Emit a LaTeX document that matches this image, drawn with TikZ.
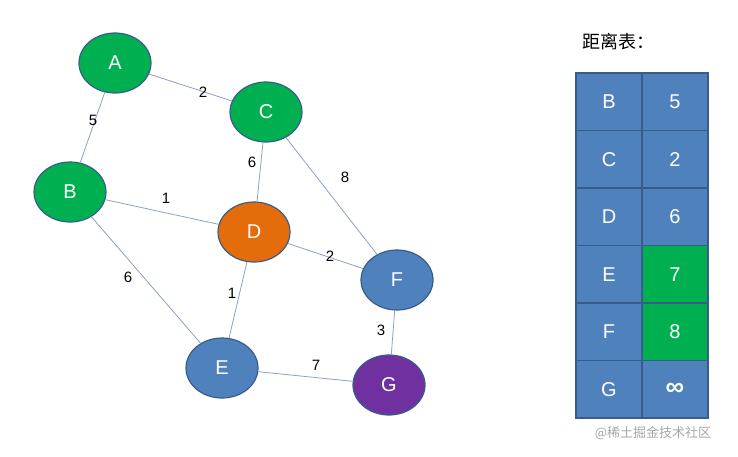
\documentclass[tikz,border=0pt]{standalone}
\usepackage{fontspec}
\setmainfont{Liberation Sans}
\newfontfamily\cjk{Noto Sans CJK SC}
\usetikzlibrary{shapes.geometric}
\definecolor{vgreen}{RGB}{0,176,80}
\definecolor{vblue}{RGB}{79,129,189}
\definecolor{vline}{RGB}{56,93,138}
\definecolor{vorange}{RGB}{228,108,10}
\definecolor{vpurple}{RGB}{112,48,160}
\definecolor{vedge}{RGB}{140,160,195}
\tikzset{
    vertex/.style={ellipse, draw=vline, line width=1.2pt, minimum width=72pt, minimum height=60pt, text=white, font=\fontsize{20}{24}\selectfont},
    edge/.style={draw=vedge, line width=0.8pt},
    wt/.style={font=\fontsize{15}{18}\selectfont, text=black},
    cell/.style={draw=vline, line width=1.4pt, fill=vblue, text=white, font=\fontsize{20}{24}\selectfont}
}
\begin{document}
\begin{tikzpicture}[x=1pt,y=-1pt]
    \useasboundingbox (0,0) rectangle (738,456);

    \node[vertex, fill=vgreen] (A) at (115,63) {A};
    \node[vertex, fill=vgreen] (C) at (266,112) {C};
    \node[vertex, fill=vgreen] (B) at (70,192) {B};
    \node[vertex, fill=vorange] (D) at (254,232) {D};
    \node[vertex, fill=vblue] (F) at (397,280) {F};
    \node[vertex, fill=vblue] (E) at (222,368) {E};
    \node[vertex, fill=vpurple] (G) at (389,385) {G};

    \draw[edge] (A) -- (C);
    \draw[edge] (A) -- (B);
    \draw[edge] (C) -- (D);
    \draw[edge] (C) -- (F);
    \draw[edge] (B) -- (D);
    \draw[edge] (B) -- (E);
    \draw[edge] (D) -- (F);
    \draw[edge] (D) -- (E);
    \draw[edge] (F) -- (G);
    \draw[edge] (E) -- (G);

    \node[wt] (wAC) at (203,92) {2};
    \node[wt] (wAB) at (93,120) {5};
    \node[wt] (wCD) at (252,162) {6};
    \node[wt] (wCF) at (345,177) {8};
    \node[wt] (wBD) at (166,198) {1};
    \node[wt] (wBE) at (128,277) {6};
    \node[wt] (wDF) at (330,256) {2};
    \node[wt] (wDE) at (232,293) {1};
    \node[wt] (wFG) at (381,330) {3};
    \node[wt] (wEG) at (316,365) {7};

    \node[font=\cjk\fontsize{18}{22}\selectfont] (title) at (618,42) {距离表：};

    \foreach \name/\dist/\col [count=\i from 0] in {B/5/vblue, C/2/vblue, D/6/vblue, E/7/vgreen, F/8/vgreen, G/{\fontsize{26}{26}\selectfont\bfseries ∞}/vblue} {
        \draw[cell] (576,73+57.5*\i) rectangle (642,130.5+57.5*\i);
        \draw[cell, fill=\col] (642,73+57.5*\i) rectangle (708,130.5+57.5*\i);
        \node[text=white, font=\fontsize{20}{24}\selectfont] (n\i) at (609,101.75+57.5*\i) {\name};
        \node[text=white, font=\fontsize{20}{24}\selectfont] (d\i) at (675,101.75+57.5*\i) {\dist};
    }

    \node[font=\cjk\fontsize{13}{15}\selectfont, text=black!35] (mark) at (653,433) {@稀土掘金技术社区};
\end{tikzpicture}
\end{document}
